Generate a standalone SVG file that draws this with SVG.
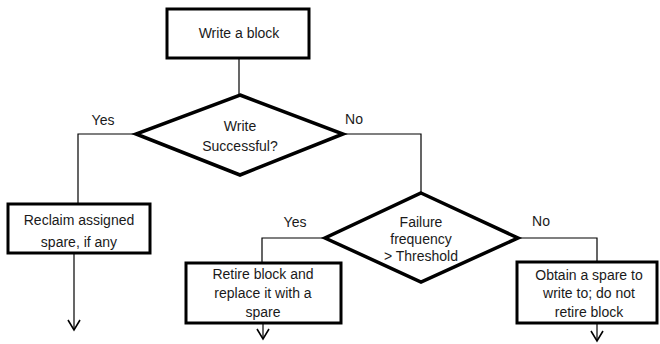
<svg xmlns="http://www.w3.org/2000/svg" width="660" height="344" viewBox="0 0 660 344">
<style>
.box{fill:#fff;stroke:#000;stroke-width:3}
.dia{fill:#fff;stroke:#000;stroke-width:3.5;stroke-linejoin:miter}
.t{font-family:"Liberation Sans",Arial,sans-serif;font-size:14px;fill:#1a1a1a;text-anchor:middle}
.c{fill:none;stroke:#000;stroke-width:1.2}
</style>
<defs>
<marker id="arr" markerUnits="userSpaceOnUse" markerWidth="14" markerHeight="16" viewBox="-12 -8 14 16" refX="0" refY="0" orient="auto" overflow="visible">
<path d="M-10,-6 L0,0 L-10,6" fill="none" stroke="#000" stroke-width="1.6"/>
</marker>
</defs>
<g id="connectors">
<path class="c" d="M239,58 V95"/>
<path class="c" d="M136,134 H78 V204"/>
<path class="c" d="M343,134 H421 V193"/>
<path class="c" d="M74,253 V330" marker-end="url(#arr)"/>
<path class="c" d="M325,238 H262 V263"/>
<path class="c" d="M518,238 H597 V262"/>
<path class="c" d="M263,323 V339" marker-end="url(#arr)"/>
<path class="c" d="M597,323 V341" marker-end="url(#arr)"/>
<text class="t" x="103" y="125">Yes</text>
<text class="t" x="354" y="124">No</text>
<text class="t" x="295" y="227">Yes</text>
<text class="t" x="541" y="226">No</text>
</g>
<g id="write-block">
<rect class="box" x="167" y="9" width="142" height="49"/>
<text class="t" x="239" y="38">Write a block</text>
</g>
<g id="write-successful">
<polygon class="dia" points="240,95 343,134 240,175 136,134"/>
<text class="t" x="240" y="131">Write</text>
<text class="t" x="240" y="151">Successful?</text>
</g>
<g id="reclaim">
<rect class="box" x="8" y="204" width="142" height="49"/>
<text class="t" x="79" y="225">Reclaim assigned</text>
<text class="t" x="79" y="247">spare, if any</text>
</g>
<g id="failure-frequency">
<polygon class="dia" points="421,193 518,238 421,282 325,238"/>
<text class="t" x="421" y="227">Failure</text>
<text class="t" x="421" y="244">frequency</text>
<text class="t" x="421" y="261">&gt; Threshold</text>
</g>
<g id="retire">
<rect class="box" x="186" y="263" width="155" height="60"/>
<text class="t" x="263" y="279">Retire block and</text>
<text class="t" x="263" y="298">replace it with a</text>
<text class="t" x="263" y="317">spare</text>
</g>
<g id="obtain">
<rect class="box" x="517" y="262" width="140" height="61"/>
<text class="t" x="589" y="280">Obtain a spare to</text>
<text class="t" x="589" y="298">write to; do not</text>
<text class="t" x="589" y="317">retire block</text>
</g>
</svg>
